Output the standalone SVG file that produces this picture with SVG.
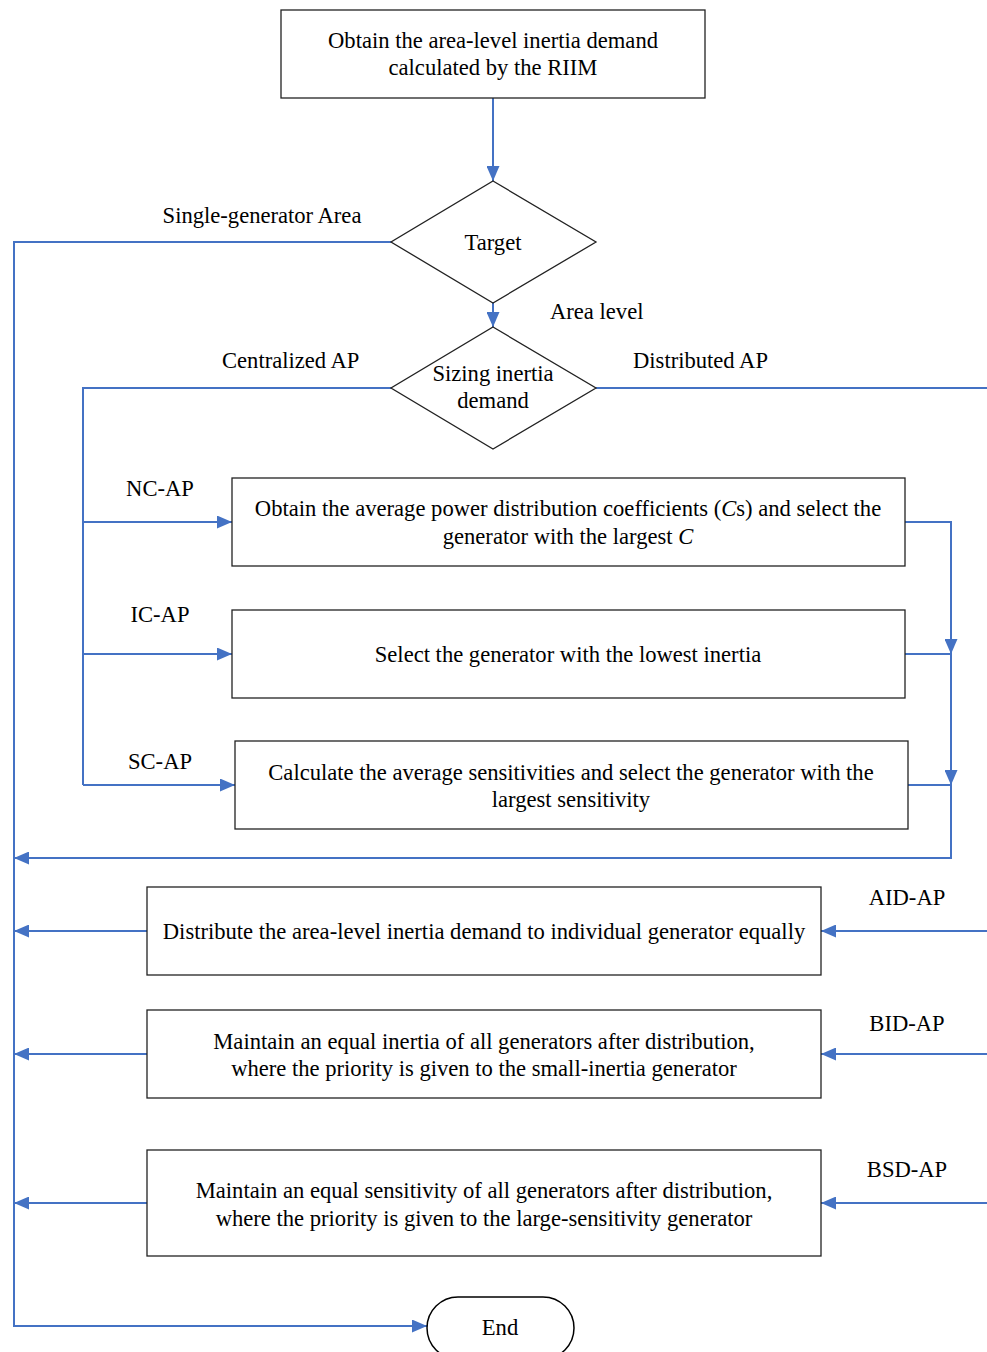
<svg xmlns="http://www.w3.org/2000/svg" width="987" height="1352" viewBox="0 0 987 1352">
  <defs>
    <marker id="arrow" viewBox="0 0 15 13" refX="15" refY="6.5" markerWidth="15" markerHeight="13" markerUnits="userSpaceOnUse" orient="auto">
      <path d="M0,0 L15,6.5 L0,13 Z" fill="#4472C4"/>
    </marker>
    <style>
      .box { fill: #ffffff; stroke: #222222; stroke-width: 1.3; }
      .lbl { font-family: "Liberation Serif", "Times New Roman", serif; font-size: 22.6px; fill: #000000; }
      .mid { text-anchor: middle; }
      .conn { fill: none; stroke: #4472C4; stroke-width: 2; }
      .arr { marker-end: url(#arrow); }
    </style>
  </defs>
  <rect width="987" height="1352" fill="#ffffff"/>

  <!-- connectors -->
  <g id="connectors">
    <path class="conn arr" d="M493,98 V181"/>
    <path class="conn arr" d="M493,303 V327"/>
    <!-- single-generator branch down to End -->
    <path class="conn arr" d="M391,242 H14 V1326 H427"/>
    <!-- centralized AP trunk -->
    <path class="conn" d="M391,388 H83 V785"/>
    <path class="conn arr" d="M83,522 H232"/>
    <path class="conn arr" d="M83,654 H232"/>
    <path class="conn arr" d="M83,785 H235"/>
    <!-- centralized AP outputs -->
    <path class="conn arr" d="M905,522 H951 V654"/>
    <path class="conn" d="M905,654 H951"/>
    <path class="conn arr" d="M951,654 V785"/>
    <path class="conn" d="M908,785 H951"/>
    <path class="conn arr" d="M951,785 V858 H14"/>
    <!-- distributed AP -->
    <path class="conn" d="M596,388 H987"/>
    <path class="conn arr" d="M987,931 H821"/>
    <path class="conn arr" d="M987,1054 H821"/>
    <path class="conn arr" d="M987,1203 H821"/>
    <path class="conn arr" d="M147,931 H14"/>
    <path class="conn arr" d="M147,1054 H14"/>
    <path class="conn arr" d="M147,1203 H14"/>
  </g>

  <!-- connector labels -->
  <g id="labels">
    <text class="lbl mid" x="262" y="223">Single-generator Area</text>
    <text class="lbl" x="550" y="319">Area level</text>
    <text class="lbl" x="222" y="368">Centralized AP</text>
    <text class="lbl" x="633" y="368">Distributed AP</text>
    <text class="lbl mid" x="160" y="496">NC-AP</text>
    <text class="lbl mid" x="160" y="622">IC-AP</text>
    <text class="lbl mid" x="160" y="769">SC-AP</text>
    <text class="lbl mid" x="907" y="905">AID-AP</text>
    <text class="lbl mid" x="907" y="1031">BID-AP</text>
    <text class="lbl mid" x="907" y="1177">BSD-AP</text>
  </g>

  <g id="start">
    <rect class="box" x="281" y="10" width="424" height="88"/>
    <text class="lbl mid" x="493" y="48">Obtain the area-level inertia demand</text>
    <text class="lbl mid" x="493" y="75">calculated by the RIIM</text>
  </g>

  <g id="target">
    <polygon class="box" points="493,181 596,242 493,303 391,242"/>
    <text class="lbl mid" x="493" y="250">Target</text>
  </g>

  <g id="sizing">
    <polygon class="box" points="493,327 596,388 493,449 391,388"/>
    <text class="lbl mid" x="493" y="381">Sizing inertia</text>
    <text class="lbl mid" x="493" y="408">demand</text>
  </g>

  <g id="nc-ap">
    <rect class="box" x="232" y="478" width="673" height="88"/>
    <text class="lbl mid" x="568" y="516">Obtain the average power distribution coefficients (<tspan font-style="italic">C</tspan>s) and select the</text>
    <text class="lbl mid" x="568" y="544">generator with the largest <tspan font-style="italic">C</tspan></text>
  </g>

  <g id="ic-ap">
    <rect class="box" x="232" y="610" width="673" height="88"/>
    <text class="lbl mid" x="568" y="662">Select the generator with the lowest inertia</text>
  </g>

  <g id="sc-ap">
    <rect class="box" x="235" y="741" width="673" height="88"/>
    <text class="lbl mid" x="571" y="780">Calculate the average sensitivities and select the generator with the</text>
    <text class="lbl mid" x="571" y="807">largest sensitivity</text>
  </g>

  <g id="aid-ap">
    <rect class="box" x="147" y="887" width="674" height="88"/>
    <text class="lbl mid" x="484" y="939">Distribute the area-level inertia demand to individual generator equally</text>
  </g>

  <g id="bid-ap">
    <rect class="box" x="147" y="1010" width="674" height="88"/>
    <text class="lbl mid" x="484" y="1049">Maintain an equal inertia of all generators after distribution,</text>
    <text class="lbl mid" x="484" y="1076">where the priority is given to the small-inertia generator</text>
  </g>

  <g id="bsd-ap">
    <rect class="box" x="147" y="1150" width="674" height="106"/>
    <text class="lbl mid" x="484" y="1198">Maintain an equal sensitivity of all generators after distribution,</text>
    <text class="lbl mid" x="484" y="1226">where the priority is given to the large-sensitivity generator</text>
  </g>

  <g id="end">
    <rect x="427" y="1297" width="147" height="62" rx="31" ry="31" fill="#ffffff" stroke="#000000" stroke-width="1.5"/>
    <text class="lbl mid" x="500" y="1335">End</text>
  </g>
</svg>
